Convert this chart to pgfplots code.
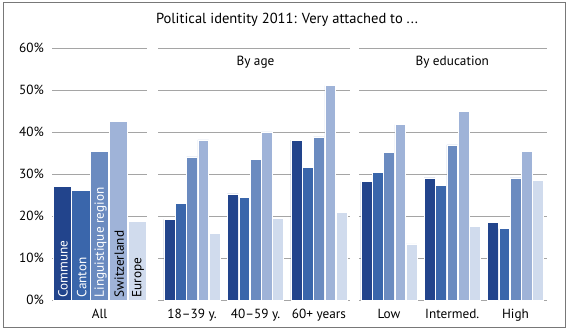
\documentclass[border=0pt]{standalone}
\usepackage{pgfplots}
\pgfplotsset{compat=1.18}
\usepackage{fontspec}
\setmainfont{PT Sans}
\definecolor{c1}{RGB}{34,68,140}
\definecolor{c2}{RGB}{58,102,171}
\definecolor{c3}{RGB}{107,139,192}
\definecolor{c4}{RGB}{159,179,216}
\definecolor{c5}{RGB}{208,219,237}
\definecolor{gridc}{RGB}{165,165,165}
\definecolor{framec}{RGB}{120,120,120}
\newcommand{\lblfont}{\fontsize{13.3}{15}\selectfont}
\pgfplotsset{
  base/.style={
    scale only axis, height=251.7bp,
    ymin=0, ymax=60, ytick={0,10,...,60},
    ymajorgrids, grid style={gridc, line width=0.8bp},
    axis line style={draw=none}, tick style={draw=none},
    ybar, xtick=data,
    tick label style={font=\lblfont},
    xticklabel style={inner sep=0pt, anchor=north, yshift=-4.5bp},
    yticklabels={},
    clip=false,
  },
}
\begin{document}
\begin{tikzpicture}
\path[use as bounding box, fill=white] (0,0) rectangle (568bp,331bp);
\draw[framec, line width=1bp] (3bp,3bp) rectangle (565bp,328bp);
\node[font=\fontsize{14.6}{17}\selectfont] at (287bp,311bp) {Political identity 2011: Very attached to ...};

% All
\begin{axis}[base, at={(52bp,31bp)}, anchor=south west, width=95bp,
  xmin=-0.5, xmax=0.5, bar width=18.2bp,
  xticklabels={All},
  yticklabels={0\%,10\%,20\%,30\%,40\%,50\%,60\%},
  yticklabel style={inner sep=0pt, anchor=east, xshift=-8bp},
  every axis plot/.append style={draw=white, line width=0.5bp}]
\addplot[fill=c1, bar shift=-37.5bp] coordinates {(0,27.0)};
\addplot[fill=c2, bar shift=-18.75bp] coordinates {(0,26.2)};
\addplot[fill=c3, bar shift=0bp] coordinates {(0,35.4)};
\addplot[fill=c4, bar shift=18.75bp] coordinates {(0,42.6)};
\addplot[fill=c5, bar shift=37.5bp] coordinates {(0,18.7)};
\begin{scope}[every node/.style={rotate=90, anchor=west, inner sep=0pt, font=\lblfont}]
\node[white] at ([xshift=-36.5bp, yshift=2.5bp]axis cs:0,0) {Commune};
\node[white] at ([xshift=-17.75bp, yshift=2.5bp]axis cs:0,0) {Canton};
\node[white] at ([xshift=1bp, yshift=2.5bp]axis cs:0,0) {Linguistique region};
\node[black] at ([xshift=19.75bp, yshift=2.5bp]axis cs:0,0) {Switzerland};
\node[black] at ([xshift=38.5bp, yshift=2.5bp]axis cs:0,0) {Europe};
\end{scope}
\end{axis}

% By age
\begin{axis}[base, at={(158bp,31bp)}, anchor=south west, width=192bp,
  xmin=-0.535, xmax=2.489, bar width=10.8bp,
  xticklabels={18--39 y., 40--59 y., 60+ years},
  every axis plot/.append style={draw=white, line width=0.5bp}]
\addplot[fill=c1, bar shift=-22.6bp] coordinates {(0,19.2) (1,25.3) (2,38.1)};
\addplot[fill=c2, bar shift=-11.3bp] coordinates {(0,23.0) (1,24.5) (2,31.7)};
\addplot[fill=c3, bar shift=0bp] coordinates {(0,34.1) (1,33.6) (2,38.9)};
\addplot[fill=c4, bar shift=11.3bp] coordinates {(0,38.2) (1,40.1) (2,51.1)};
\addplot[fill=c5, bar shift=22.6bp] coordinates {(0,15.8) (1,19.5) (2,20.8)};
\node[font=\lblfont] at (axis cs:1,56.8) {By age};
\end{axis}

% By education
\begin{axis}[base, at={(359bp,31bp)}, anchor=south west, width=188bp,
  xmin=-0.474, xmax=2.498, bar width=10.8bp,
  xticklabels={Low, Intermed., High},
  every axis plot/.append style={draw=white, line width=0.5bp}]
\addplot[fill=c1, bar shift=-22.6bp] coordinates {(0,28.2) (1,29.1) (2,18.5)};
\addplot[fill=c2, bar shift=-11.3bp] coordinates {(0,30.5) (1,27.4) (2,17.0)};
\addplot[fill=c3, bar shift=0bp] coordinates {(0,35.2) (1,37.0) (2,29.1)};
\addplot[fill=c4, bar shift=11.3bp] coordinates {(0,41.8) (1,45.0) (2,35.5)};
\addplot[fill=c5, bar shift=22.6bp] coordinates {(0,13.4) (1,17.5) (2,28.5)};
\node[font=\lblfont] at (axis cs:1,56.8) {By education};
\end{axis}
\end{tikzpicture}
\end{document}
